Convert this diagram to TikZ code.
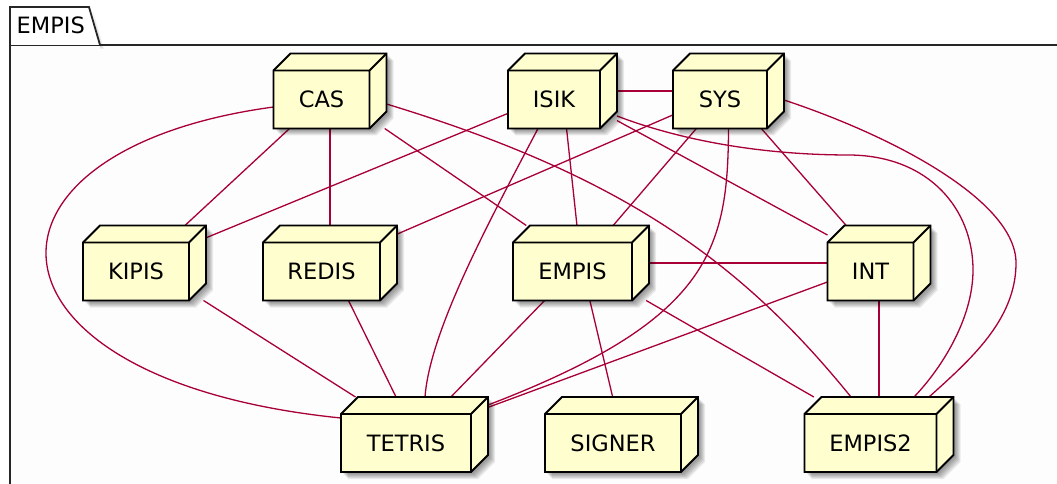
\documentclass[tikz,border=0pt]{standalone}
\usepackage{fontspec}
\setmainfont{DejaVu Sans}
\usetikzlibrary{calc}

\definecolor{nodefill}{HTML}{FEFECE}
\definecolor{linkred}{HTML}{A80036}
\definecolor{pkgfill}{HTML}{FDFDFD}

\pgfdeclarelayer{frame}
\pgfdeclarelayer{links}
\pgfdeclarelayer{faces}
\pgfsetlayers{frame,links,faces,main}

\tikzset{
  box3d/.style={rectangle, inner sep=0pt, outer sep=0pt, minimum height=75pt},
  txt/.style={font=\fontsize{22.5}{27}\selectfont, text=black},
  face/.style={draw=black, line width=1.9pt, fill=nodefill},
  edgeline/.style={draw=black, line width=1.9pt},
  shade3d/.style={fill=black, fill opacity=0.075, draw=none},
  link/.style={draw=linkred, line width=1.3pt},
  pkgline/.style={draw=black!85, line width=1.8pt},
  % text sits in the middle of the front face of the box
  boxlabel/.style={label={[txt, xshift=-8.5pt, yshift=-8.5pt]center:#1}}
}

\begin{document}
\begin{tikzpicture}[x=1pt, y=-1pt]
\useasboundingbox (0,0) rectangle (1057,484);

% ---- components (whole extent of each 3D box) ----
\node[box3d, minimum width=113pt, boxlabel=CAS]    (CAS)    at (330,   91) {};
\node[box3d, minimum width=109pt, boxlabel=ISIK]   (ISIK)   at (562.5, 91) {};
\node[box3d, minimum width=111pt, boxlabel=SYS]    (SYS)    at (728.5, 91) {};
\node[box3d, minimum width=123pt, boxlabel=KIPIS]  (KIPIS)  at (144.5, 263) {};
\node[box3d, minimum width=134pt, boxlabel=REDIS]  (REDIS)  at (330,   263) {};
\node[box3d, minimum width=136pt, boxlabel=EMPIS]  (EMPIS)  at (581,   263) {};
\node[box3d, minimum width=103pt, boxlabel=INT]    (INT)    at (879,   263) {};
\node[box3d, minimum width=147pt, boxlabel=TETRIS] (TETRIS) at (414.5, 434.5) {};
\node[box3d, minimum width=153pt, boxlabel=SIGNER] (SIGNER) at (621.5, 434.5) {};
\node[box3d, minimum width=149pt, boxlabel=EMPIS2] (EMPIS2) at (879,   434.5) {};

% ---- package frame ----
\begin{pgfonlayer}{frame}
  \fill[pkgfill] (10,45) rectangle (1057,484);
  \foreach \s in {2,3,4}{
    \fill[black, fill opacity=0.05] (89+\s,7+\s) -- (100+\s,45+\s) -- (100,45+\s) -- (100,45) -- cycle;
  }
  \draw[pkgline] (10,484) -- (10,45) -- (1057,45);
  \filldraw[pkgline, fill=white] (10,45) -- (10,7) -- (89,7) -- (100,45);
  \node[txt, anchor=west, inner sep=0pt] (pkgtitle) at (16.5,25.7) {EMPIS};
\end{pgfonlayer}

% ---- 3D faces of the components, with a soft drop shadow ----
\begin{pgfonlayer}{faces}
\foreach \nm in {CAS,ISIK,SYS,KIPIS,REDIS,EMPIS,INT,TETRIS,SIGNER,EMPIS2}{
  \foreach \s in {2,3,4,5,6,7}{
    \path[shade3d]
      ($(\nm.north west)+(\s,17+\s)$) -- ($(\nm.north west)+(17+\s,\s)$)
      -- ($(\nm.north east)+(\s,\s)$) -- ($(\nm.south east)+(\s,-17+\s)$)
      -- ($(\nm.south east)+(-17+\s,\s)$) -- ($(\nm.south west)+(\s,\s)$) -- cycle;
  }
  \path[face]
    ($(\nm.north west)+(0,17)$) -- ($(\nm.north west)+(17,0)$) -- (\nm.north east)
    -- ($(\nm.south east)+(0,-17)$) -- ($(\nm.south east)+(-17,0)$)
    -- (\nm.south west) -- cycle;
  \draw[edgeline]
    ($(\nm.north west)+(0,17)$) -- ($(\nm.north east)+(-17,17)$) -- (\nm.north east)
    ($(\nm.north east)+(-17,17)$) -- ($(\nm.south east)+(-17,0)$);
}
\end{pgfonlayer}

% ---- connectors ----
\begin{pgfonlayer}{links}
  \draw[link] (CAS) -- (KIPIS);
  \draw[link] (CAS) -- (REDIS);
  \draw[link] (CAS) -- (EMPIS);
  \draw[link] ($(CAS.west)+(0,16)$)
      .. controls (-45,150) and (-35,380) .. ($(TETRIS.west)+(0,-16.5)$);
  \draw[link] ($(CAS.east)+(0,13)$)
      .. controls (620,175) and (740,260) .. ($(EMPIS2.north)+(-28,0)$);

  \draw[link] (ISIK) -- (SYS);
  \draw[link] (ISIK) -- (KIPIS);
  \draw[link] (ISIK) -- (EMPIS);
  \draw[link] (ISIK) -- (INT);
  \draw[link] ($(ISIK.south)+(-24.5,0)$)
      .. controls (490,220) and (430,330) .. ($(TETRIS.north)+(10.5,0)$);
  \draw[link] ($(ISIK.east)+(0,25)$)
      .. controls (680,140) and (760,155) .. (850,155)
      .. controls (930,156) and (973,210) .. (973,270)
      .. controls (973,320) and (940,370) .. ($(EMPIS2.north)+(35,0)$);

  \draw[link] (SYS) -- (REDIS);
  \draw[link] (SYS) -- (EMPIS);
  \draw[link] (SYS) -- (INT);
  \draw[link] (SYS.south)
      .. controls (728,250) and (710,320) .. ($(TETRIS.east)+(0,-29.5)$);
  \draw[link] ($(SYS.east)+(0,9)$)
      .. controls (890,135) and (1016,200) .. (1016,263)
      .. controls (1016,320) and (970,360) .. ($(EMPIS2.north)+(50,0)$);

  \draw[link] (KIPIS) -- (TETRIS);
  \draw[link] (REDIS) -- (TETRIS);
  \draw[link] (EMPIS) -- (TETRIS);
  \draw[link] (EMPIS) -- (SIGNER);
  \draw[link] (EMPIS) -- (EMPIS2);
  \draw[link] (EMPIS) -- (INT);
  \draw[link] (INT) -- (TETRIS);
  \draw[link] (INT) -- (EMPIS2);
\end{pgfonlayer}
\end{tikzpicture}
\end{document}
